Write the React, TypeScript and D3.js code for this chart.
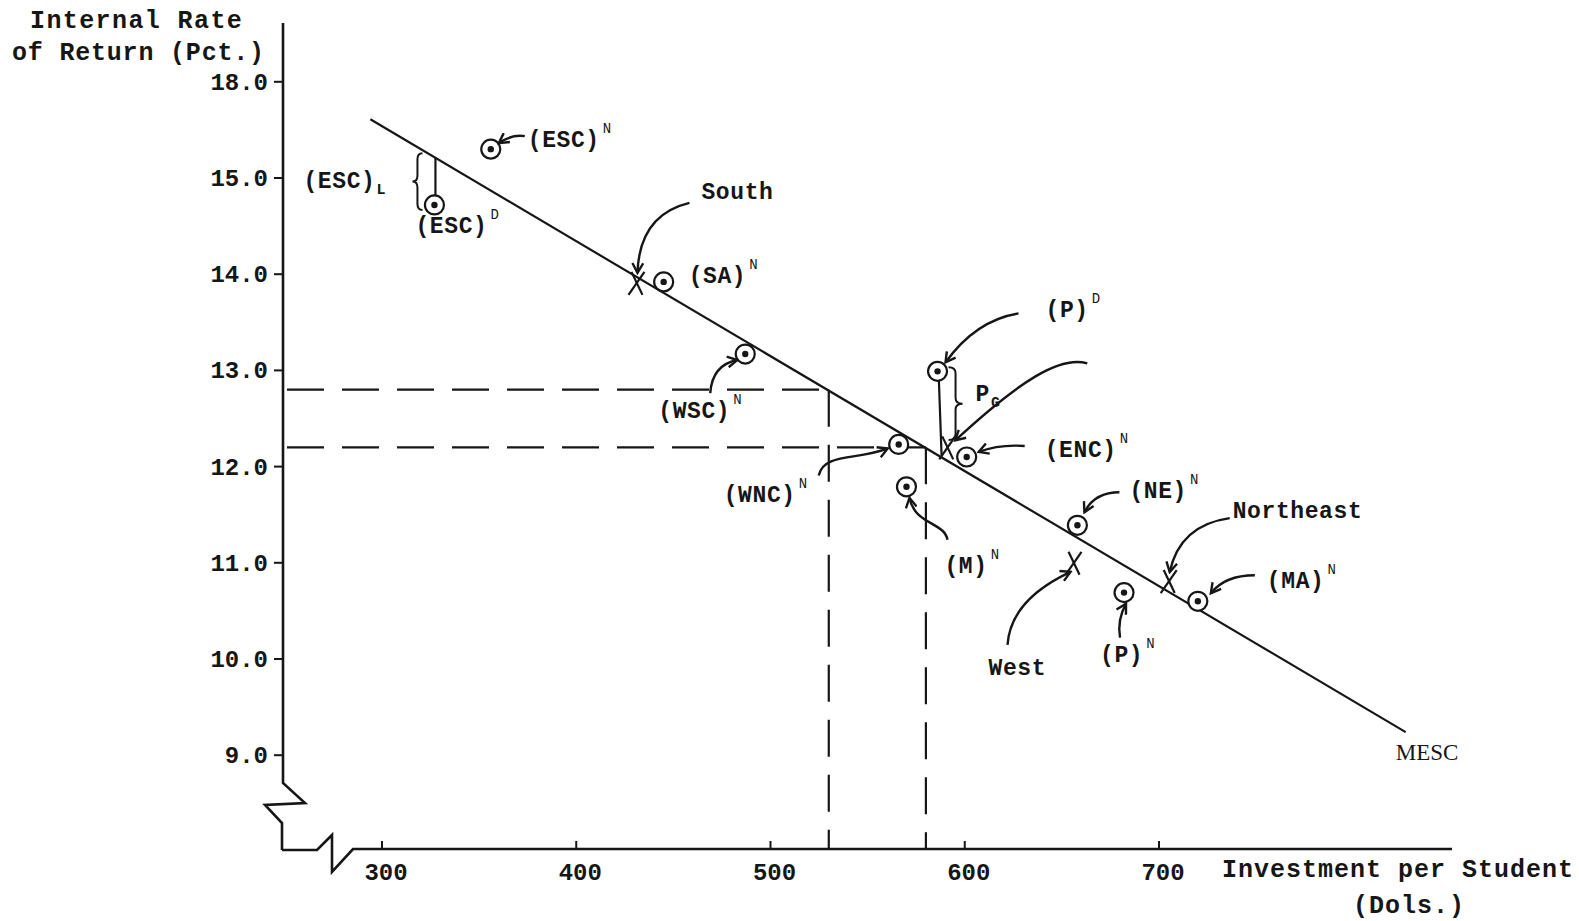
import React from "react";
import * as d3 from "d3";

// axis ticks
const yTickValues = [16, 15, 14, 13, 12, 11, 10, 9];
const yTickLabels = ["18.0", "15.0", "14.0", "13.0", "12.0", "11.0", "10.0", "9.0"];
const xTickValues = [300, 400, 500, 600, 700];
const xTickLabels = ["300", "400", "500", "600", "700"];

// MESC schedule (end points)
const mescInvest = [294, 827];
const mescIRR = [15.61, 9.24];

// dashed guides
const guideInvest = [530, 580];
const guideIRR = [12.8, 12.2];

// regions (circled points)
const regionNames = ["ESC", "ESC", "SA", "WSC", "WNC", "M", "P", "ENC", "NE", "P", "MA"];
const regionTags = ["N", "D", "N", "N", "N", "N", "D", "N", "N", "N", "N"];
const regionInvest = [356, 327, 445, 487, 566, 570, 586, 601, 658, 682, 720];
const regionIRR = [15.3, 14.72, 13.92, 13.17, 12.23, 11.79, 12.99, 12.1, 11.39, 10.69, 10.6];

// broad regions (crosses)
const crossNames = ["South", "West", "Northeast", ""];
const crossInvest = [431, 656, 705, 591];
const crossIRR = [13.91, 11.0, 10.81, 12.2];

// annotation layout (pixel offsets from the mark)
const regionLabelOffset = [[37, -2], [-19, 28], [25, 1], [-87, 64], [-175, 58], [38, 86], [108, -54], [78, 0], [52, -27], [-24, 69], [69, -13]];
const regionArrow: (number[] | null)[] = [
  [34, -13, 21, -15, 8, -6],
  null,
  null,
  [-35, 39, -33, 11, -8, 6],
  [-80, 31, -75, 8, -40, 16, -11, 4],
  [41, 53, 38, 35, 8, 38, 3, 11],
  [81, -58, 38, -51, 8, -9],
  [58, -11, 33, -13, 12, -5],
  [42, -33, 17, -33, 7, -13],
  [-4, 45, -7, 27, 2, 11],
  [57, -26, 27, -26, 13, -8],
];
const crossLabelOffset = [[65, -84], [-85, 112], [64, -63], [0, 0]];
const crossArrow = [
  [53, -80, 3, -68, 1, -10],
  [-66, 82, -63, 37, -3, 9],
  [61, -63, 11, -56, 1, -9],
  [140, -84, 113, -92, 73, -67, 8, -7],
];

const W = 1579, H = 921;
const ink = "#161616";
const font = "'Liberation Mono', 'DejaVu Sans Mono', monospace";

const x = d3.scaleLinear().domain([300, 700]).range([382, 1159]);
const y = d3.scaleLinear().domain([15, 10]).range([178, 659]);

const axisX = 283, axisY = 850;

const mescAt = (v: number) =>
  mescIRR[0] + (mescIRR[1] - mescIRR[0]) * (v - mescInvest[0]) / (mescInvest[1] - mescInvest[0]);

function arrowPath(px: number, py: number, a: number[]) {
  if (a.length === 6) {
    return `M${px + a[0]},${py + a[1]} Q${px + a[2]},${py + a[3]} ${px + a[4]},${py + a[5]}`;
  }
  return `M${px + a[0]},${py + a[1]} C${px + a[2]},${py + a[3]} ${px + a[4]},${py + a[5]} ${px + a[6]},${py + a[7]}`;
}

function brace(bx: number, y1: number, y2: number, dir: number, w: number) {
  const m = (y1 + y2) / 2;
  const h = bx + dir * w * 0.5;
  const t = bx + dir * w;
  return `M${bx},${y1} Q${h},${y1} ${h},${y1 + 6} L${h},${m - 6} Q${h},${m} ${t},${m} ` +
    `Q${h},${m} ${h},${m + 6} L${h},${y2 - 6} Q${h},${y2} ${bx},${y2}`;
}

function Label({ px, py, text, sup, sub, size = 23 }: any) {
  return (
    <text x={px} y={py} fontSize={size} letterSpacing={0.6} fill={ink} fontFamily={font} fontWeight="bold">
      {text}
      {sup && <tspan fontSize={14} fontWeight="normal" dy={-14} dx={3}>{sup}</tspan>}
      {sub && <tspan fontSize={15} dy={6} dx={1}>{sub}</tspan>}
    </text>
  );
}

export default function App() {
  const mesc = d3.line<number>()
    .x((d) => x(d))
    .y((d, i) => y(mescIRR[i]))(mescInvest);

  // ESC connector and brace
  const escD = 1;
  const escX = x(regionInvest[escD]);
  const escTop = y(mescAt(regionInvest[escD]));
  const escBot = y(regionIRR[escD]);
  // Pacific connector and brace
  const pD = 6;
  const pX = x(regionInvest[pD]);
  const pTop = y(regionIRR[pD]);
  const pBot = y(mescAt(regionInvest[pD]));

  const txt = { fontFamily: font, fill: ink, fontWeight: "bold" as const };

  return (
    <svg width={W} height={H} style={{ position: "absolute", left: 0, top: 0, background: "#fff" }}>
      <defs>
        <marker id="head" viewBox="0 0 12 12" refX={10} refY={6} markerWidth={13} markerHeight={13}
          markerUnits="userSpaceOnUse" orient="auto">
          <path d="M1,1 L10,6 L1,11" fill="none" stroke={ink} strokeWidth={2.2} />
        </marker>
      </defs>

      {/* axes with breaks */}
      <path d={`M${axisX},23 L${axisX},783 L305,803 L265,805 L282,823 L282,${axisY}`}
        fill="none" stroke={ink} strokeWidth={2.6} />
      <path d={`M282,${axisY} L317,${axisY} L332,835 L332,872 L353,${axisY - 1} L1452,${axisY - 1}`}
        fill="none" stroke={ink} strokeWidth={2.6} />

      {yTickValues.map((v, i) => (
        <g key={"yt" + i}>
          <line x1={axisX - 9} x2={axisX} y1={y(v)} y2={y(v)} stroke={ink} strokeWidth={2} />
          <text x={axisX - 15} y={y(v) + 8} textAnchor="end" fontSize={24} {...txt}>{yTickLabels[i]}</text>
        </g>
      ))}
      {xTickValues.map((v, i) => (
        <g key={"xt" + i}>
          <line x1={x(v)} x2={x(v)} y1={axisY - 9} y2={axisY} stroke={ink} strokeWidth={2} />
          <text x={x(v) + 4} y={880} textAnchor="middle" fontSize={24} {...txt}>{xTickLabels[i]}</text>
        </g>
      ))}

      <text x={30} y={28} fontSize={25} letterSpacing={1.4} {...txt}>Internal Rate</text>
      <text x={12} y={60} fontSize={25} letterSpacing={0.8} {...txt}>of Return (Pct.)</text>
      <text x={1222} y={877} fontSize={25} letterSpacing={1} {...txt}>Investment per Student</text>
      <text x={1353} y={913} fontSize={25} letterSpacing={1} {...txt}>(Dols.)</text>

      {/* dashed guides */}
      {guideInvest.map((v, i) => (
        <g key={"g" + i} stroke={ink} strokeWidth={2.2} strokeDasharray="37 18" fill="none">
          <line x1={axisX + 4} x2={x(v)} y1={y(guideIRR[i])} y2={y(guideIRR[i])} />
          <line x1={x(v)} x2={x(v)} y1={y(guideIRR[i])} y2={axisY} />
        </g>
      ))}

      {/* MESC */}
      <path d={mesc || ""} fill="none" stroke={ink} strokeWidth={2.2} />
      <text x={x(mescInvest[1]) - 10} y={y(mescIRR[1]) + 28} fontSize={23} fontFamily="'Liberation Serif', serif"
        fill={ink}>MESC</text>

      {/* ESC gap */}
      <line x1={escX + 1} x2={escX + 1} y1={escTop} y2={escBot} stroke={ink} strokeWidth={2.2} />
      <path d={brace(escX - 12, escTop - 4, escBot + 5, -1, 10)} fill="none" stroke={ink} strokeWidth={2} />
      <Label px={escX - 131} py={(escTop + escBot) / 2 + 7} text="(ESC)" sub="L" />

      {/* Pacific gap */}
      <line x1={pX + 1} x2={pX + 4} y1={pTop} y2={pBot} stroke={ink} strokeWidth={2.2} />
      <path d={brace(pX + 11, pTop - 4, pBot - 15, 1, 14)} fill="none" stroke={ink} strokeWidth={2} />
      <Label px={pX + 38} py={(pTop + pBot) / 2 - 12} text="P" sub="G" />

      {/* crosses */}
      {crossInvest.map((v, i) => {
        const px = x(v), py = y(crossIRR[i]);
        const [dx, dy] = crossLabelOffset[i];
        return (
          <g key={"c" + i}>
            <line x1={px - 8} y1={py + 12} x2={px + 8} y2={py - 11} stroke={ink} strokeWidth={2.2} />
            <line x1={px - 5} y1={py - 11} x2={px + 6} y2={py + 12} stroke={ink} strokeWidth={2.2} />
            <path d={arrowPath(px, py, crossArrow[i])} fill="none" stroke={ink} strokeWidth={2.4}
              markerEnd="url(#head)" />
            {crossNames[i] && <Label px={px + dx} py={py + dy} text={crossNames[i]} />}
          </g>
        );
      })}

      {/* circled regions */}
      {regionInvest.map((v, i) => {
        const px = x(v), py = y(regionIRR[i]);
        const [dx, dy] = regionLabelOffset[i];
        const a = regionArrow[i];
        return (
          <g key={"r" + i}>
            <circle cx={px} cy={py} r={9.5} fill="#fff" stroke={ink} strokeWidth={2.2} />
            <circle cx={px} cy={py} r={3.2} fill={ink} />
            {a && <path d={arrowPath(px, py, a)} fill="none" stroke={ink} strokeWidth={2.4}
              markerEnd="url(#head)" />}
            <Label px={px + dx} py={py + dy} text={`(${regionNames[i]})`} sup={regionTags[i]} />
          </g>
        );
      })}
    </svg>
  );
}
